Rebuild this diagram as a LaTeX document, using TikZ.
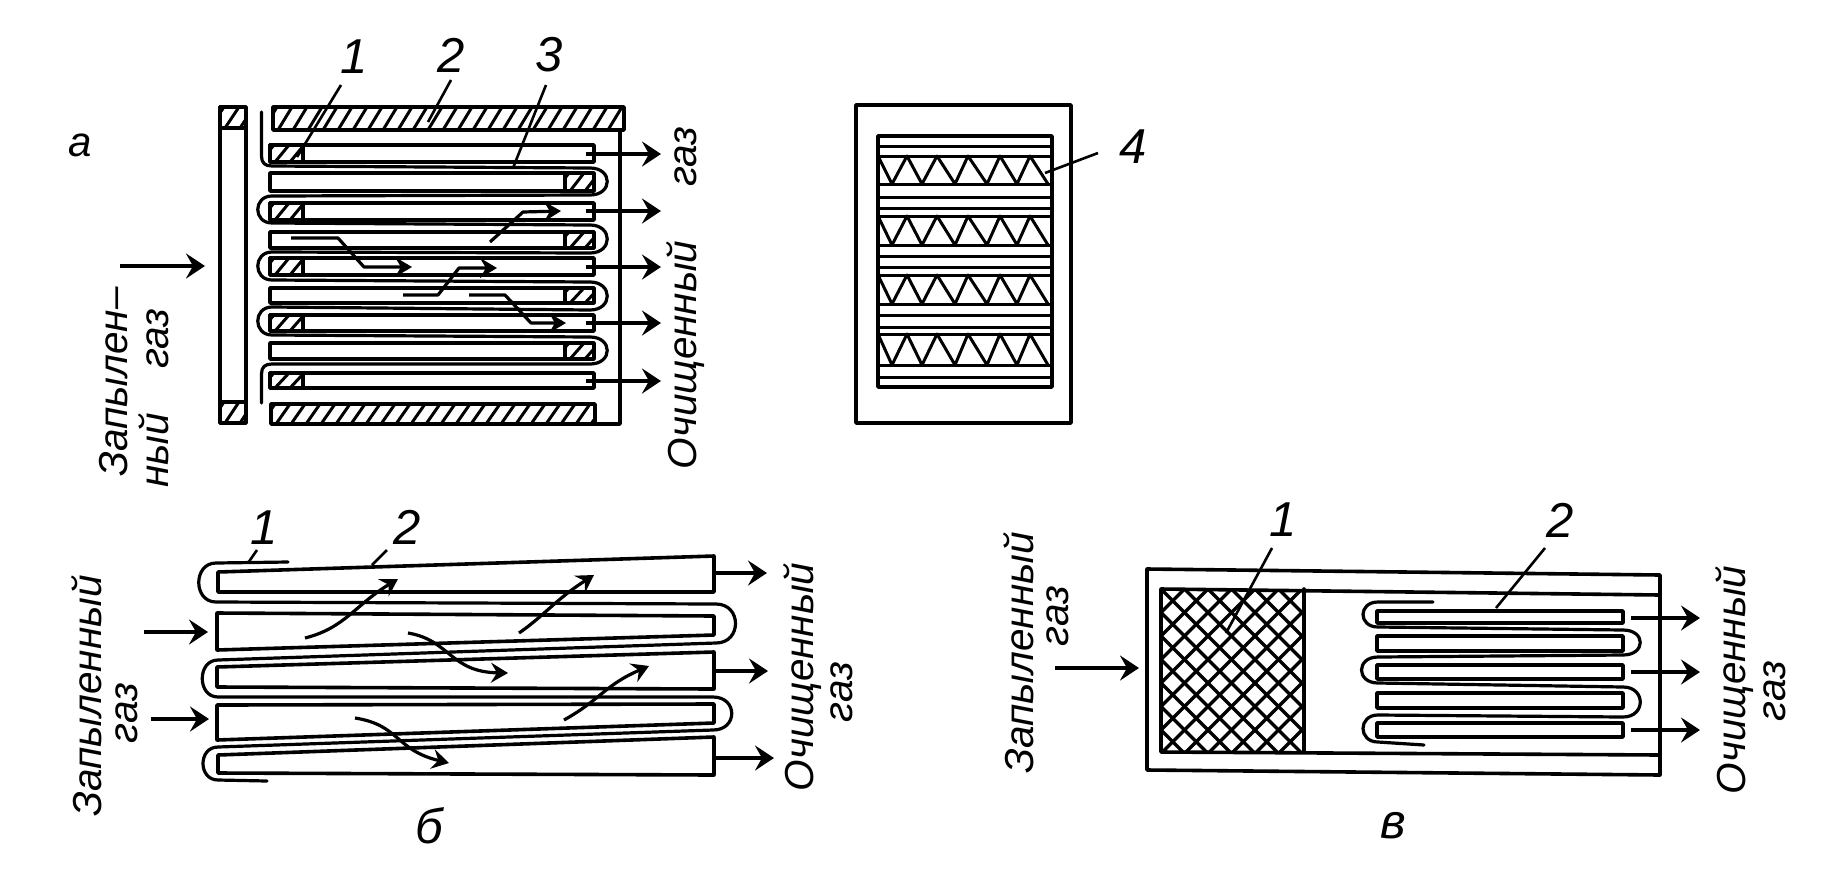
\documentclass[tikz,border=0pt]{standalone}
\usepackage{fontspec}
\setmainfont{Liberation Sans}
\usetikzlibrary{arrows.meta}
\tikzset{
  frame/.style={line width=3.6pt,line cap=round,line join=round},
  thinl/.style={line width=3pt,line cap=round},
  pleat/.style={line width=3.2pt,line cap=round,line join=round},
  flow/.style={line width=3.2pt,line join=round,-{Stealth[length=17pt,width=20pt,inset=6pt]}},
  outflow/.style={line width=4.4pt,-{Stealth[length=19pt,width=25pt,inset=7pt]}},
  lead/.style={line width=2.6pt},
  vcap/.style={font=\fontsize{40.5}{44}\selectfont\itshape,inner sep=0pt,rotate=90},
  num/.style={font=\fontsize{49}{50}\selectfont\itshape,inner sep=0pt},
  letr/.style={font=\fontsize{42}{44}\selectfont\itshape,inner sep=0pt},
}
\newcommand{\hatchbox}[4]{%
  \begin{scope}
    \clip (#1,#2) rectangle (#3,#4);
    \foreach \k in {-40,-25,...,700}{\draw[line width=3pt] (#1+\k,#4) -- (#1+\k+14,#2);}
  \end{scope}
  \draw[frame] (#1,#2) rectangle (#3,#4);}
\begin{document}
\begin{tikzpicture}[x=1pt,y=-1pt]
\useasboundingbox (0,0) rectangle (1847,871);
\fill[white] (0,0) rectangle (1847,871);

%% panel a
\node[letr] (la) at (80,145) {а};
\draw[frame] (220,107) rectangle (246,423);
\hatchbox{220}{107}{246}{128}
\hatchbox{220}{402}{246}{423}
\hatchbox{273}{107}{624}{130}
\hatchbox{271}{404}{595}{424}
\draw[frame] (620,130) -- (620,424) -- (595,424);
% pockets
\foreach \ya/\yb in {145/162,203/220,258/275,315/331,373/388}{
  \draw[frame] (270,\ya) rectangle (594,\yb);
  \hatchbox{270}{\ya}{303}{\yb}
}
\foreach \ya/\yb in {173/191,232/248,288/303,343/359}{
  \draw[frame] (270,\ya) rectangle (594,\yb);
  \hatchbox{565}{\ya}{594}{\yb}
}
% pleated filter
\draw[pleat] (261.5,112) -- (261.5,156) .. controls (261.5,163) and (265,166) .. (272,166)
  -- (590,168) .. controls (613,168) and (613,195) .. (590,195)
  -- (272,196) .. controls (253,196) and (253,223) .. (272,223)
  -- (590,225) .. controls (613,225) and (613,253) .. (590,253)
  -- (272,252) .. controls (253,252) and (253,280) .. (272,280)
  -- (590,282) .. controls (613,282) and (613,310) .. (590,310)
  -- (272,307) .. controls (253,307) and (253,335) .. (272,335)
  -- (590,337) .. controls (613,337) and (613,364) .. (590,364)
  -- (272,364) .. controls (265,364) and (261.5,367) .. (261.5,374) -- (261.5,403);
% outlets
\foreach \y in {154,211,267,323,381}{
  \coordinate (oa\y) at (586,\y); \coordinate (ea\y) at (661,\y);
  \draw[outflow] (oa\y) -- (ea\y);
}
\coordinate (ia0) at (120,266); \coordinate (ia1) at (205,266);
\draw[outflow] (ia0) -- (ia1);
% inner flows
\draw[flow] (291,238) -- (338,238) -- (364,267) -- (412,267);
\draw[flow] (403,295) -- (438,295) -- (459,268) -- (497,268);
\draw[flow] (469,295) -- (505,295) -- (531,323) -- (566,323);
\draw[flow] (490,242) -- (523,212) -- (561,211);
% leaders
\node[num] (a1) at (354,57) {1};
\node[num] (a2) at (451,55) {2};
\node[num] (a3) at (549,55) {3};
\draw[lead] (341,85) -- (297,157);
\draw[lead] (451,80) -- (428,122);
\draw[lead] (546,85) -- (513,168);
% captions
\node[vcap] (ca1) at (114,382) {Запылен–};
\node[vcap] (ca2) at (154,398) {ный\hspace{44pt}газ};
\node[vcap] (ca3) at (686,298) {Очищенный\hspace{54pt}газ};

%% panel with the corrugation
\draw[frame] (856,105) rectangle (1071,423);
\draw[frame] (878,136) rectangle (1052,387);
\foreach \y in {146,156,184,197,208,216,245,256,267,275,304,315,327,334,365,377}{
  \draw[thinl] (878,\y) -- (1052,\y);
}
\foreach \t/\b in {156/184,216/245,275/304,334/365}{
  \draw[thinl,line join=round] (878,\t) -- (892,\b) -- (907,\t) -- (922,\b) -- (937,\t) -- (955,\b)
    -- (968,\t) -- (987,\b) -- (1000,\t) -- (1017,\b) -- (1030,\t) -- (1048,\b);
}
\node[num] (n4) at (1133,147) {4};
\draw[lead] (1045,173) -- (1098,153);

%% panel b
\draw[frame] (218,572) -- (714,556) -- (714,592) -- (218,592) -- cycle;
\draw[frame] (217,613) -- (714,616) -- (714,635) -- (217,650) -- cycle;
\draw[frame] (217,667) -- (714,652) -- (714,689) -- (217,687) -- cycle;
\draw[frame] (217,705) -- (714,704) -- (714,723) -- (217,740) -- cycle;
\draw[frame] (218,755) -- (714,737) -- (714,775) -- (218,773) -- cycle;
\draw[pleat] (288,562) -- (216,563) .. controls (193,563) and (193,602) .. (216,602)
  -- (716,604) .. controls (742,604) and (742,643) .. (716,643)
  -- (218,660) .. controls (197,660) and (197,697) .. (218,697)
  -- (713,697) .. controls (738,697) and (738,730) .. (713,730)
  -- (218,747) .. controls (198,747) and (198,780) .. (218,780) -- (267,781);
\foreach \y/\e in {573/767,671/768,758/774}{
  \coordinate (ob\y) at (716,\y); \coordinate (eb\y) at (\e,\y);
  \draw[outflow] (ob\y) -- (eb\y);
}
\draw[outflow] (144,632) -- (208,632);
\draw[outflow] (151,719) -- (209,719);
\draw[flow] (305,638) .. controls (345,628) and (355,605) .. (398,579);
\draw[flow] (519,633) .. controls (545,615) and (555,600) .. (594,575);
\draw[flow] (408,633) .. controls (450,640) and (450,672) .. (508,673);
\draw[flow] (564,720) .. controls (600,700) and (605,685) .. (649,666);
\draw[flow] (355,718) .. controls (400,725) and (395,750) .. (449,763);
\node[num] (b1) at (264,528) {1};
\node[num] (b2) at (407,527) {2};
\draw[lead] (257,550) -- (248,563);
\draw[lead] (387,550) -- (372,565);
\node[num] (lb) at (429,826) {б};
\node[vcap] (cb1) at (87,696) {Запыленный};
\node[vcap] (cb2) at (127,713) {газ};
\node[vcap] (cb3) at (803,677) {Очищенный};
\node[vcap] (cb4) at (842,692) {газ};

%% panel v
\draw[frame] (1147,569) -- (1660,575) -- (1660,775) -- (1147,770) -- cycle;
\draw[frame] (1660,595) -- (1161,589) -- (1161,752) -- (1660,755);
\begin{scope}
  \clip (1161,589) rectangle (1304,752);
  \foreach \k in {-10,...,16}{
    \draw[line width=3.4pt] (1161+\k*23.5,589) -- ++(170,170);
    \draw[line width=3.4pt] (1161+\k*23.5,589) -- ++(-170,170);
  }
\end{scope}
\draw[frame] (1304,589) -- (1304,752);
\foreach \ya/\yb in {611/623,636/651,665/679,693/708,723/737}{
  \draw[frame] (1377,\ya) rectangle (1623,\yb);
}
\draw[pleat] (1433,602) -- (1378,602) .. controls (1358,602) and (1358,627) .. (1378,627)
  -- (1623,630) .. controls (1646,630) and (1646,655) .. (1623,655)
  -- (1378,657) .. controls (1356,657) and (1356,683) .. (1378,683)
  -- (1623,687) .. controls (1646,687) and (1646,717) .. (1623,717)
  -- (1378,715) .. controls (1358,715) and (1358,742) .. (1378,742) -- (1424,745);
\foreach \y in {618,672,730}{
  \coordinate (ov\y) at (1631,\y); \coordinate (ev\y) at (1700,\y);
  \draw[outflow] (ov\y) -- (ev\y);
}
\draw[outflow] (1055,668) -- (1139,668);
\node[num] (v1) at (1283,520) {1};
\node[num] (v2) at (1560,520) {2};
\draw[lead] (1272,548) -- (1226,633);
\draw[lead] (1545,548) -- (1496,608);
\node[num] (lv) at (1393,826) {в};
\node[vcap] (cv1) at (1019,653) {Запыленный};
\node[vcap] (cv2) at (1058,616) {газ};
\node[vcap] (cv3) at (1735,680) {Очищенный};
\node[vcap] (cv4) at (1775,691) {газ};
\end{tikzpicture}
\end{document}
